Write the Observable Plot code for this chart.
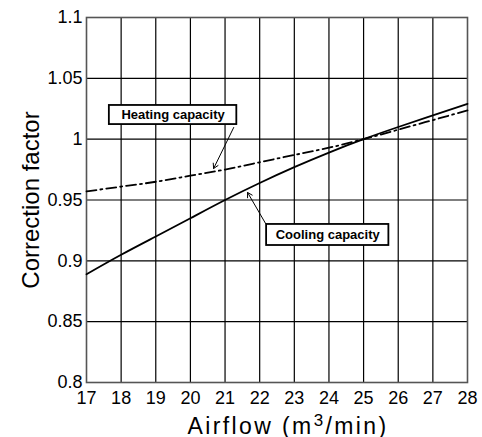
<!DOCTYPE html>
<html>
<head>
<meta charset="utf-8">
<script src="https://cdn.jsdelivr.net/npm/d3@7"></script>
<script src="https://cdn.jsdelivr.net/npm/@observablehq/plot@0.6"></script>
<style>
  html, body { margin: 0; padding: 0; background: #fff; }
  #chart svg { display: block; }
</style>
</head>
<body>
<div id="chart"></div>
<script>
// ---- data ----
const airflow = [17, 18, 19, 20, 21, 22, 23, 24, 25, 26, 27, 28];
const cooling = [0.889, 0.905, 0.920, 0.935, 0.950, 0.964, 0.977, 0.989, 1.000, 1.010, 1.0195, 1.029];
const heating = [0.957, 0.961, 0.965, 0.970, 0.975, 0.981, 0.987, 0.993, 1.000, 1.0078, 1.0157, 1.0236];
const xTicks = [17, 18, 19, 20, 21, 22, 23, 24, 25, 26, 27, 28];
const yTicks = [0.8, 0.85, 0.9, 0.95, 1, 1.05, 1.1];
const yTickLabels = ["0.8", "0.85", "0.9", "0.95", "1", "1.05", "1.1"];
const xLabel = "Airflow (m3/min)";
const yLabel = "Correction factor";
const seriesNames = ["Heating capacity", "Cooling capacity"];
// annotation boxes and arrows, in data coordinates
const boxX1 = [17.66, 22.20];
const boxX2 = [21.34, 25.73];
const boxY1 = [1.0120, 0.9126];
const boxY2 = [1.0277, 0.9299];
const arrowX1 = [21.25, 22.17];
const arrowY1 = [1.0096, 0.9307];
const arrowX2 = [20.67, 21.65];
const arrowY2 = [0.9759, 0.9562];

const coolingData = airflow.map((x, i) => ({x, y: cooling[i]}));
const heatingData = airflow.map((x, i) => ({x, y: heating[i]}));
const notes = seriesNames.map((name, i) => ({
  name, x1: boxX1[i], x2: boxX2[i], y1: boxY1[i], y2: boxY2[i],
  ax1: arrowX1[i], ay1: arrowY1[i], ax2: arrowX2[i], ay2: arrowY2[i]
}));

const font = "'Liberation Sans', Arial, Helvetica, sans-serif";

const plot = Plot.plot({
  width: 482,
  height: 437,
  marginLeft: 86,
  marginRight: 15,
  marginTop: 17,
  marginBottom: 55,
  style: {fontFamily: font, fontSize: "18px", color: "#000", background: "#fff"},
  x: {domain: [17, 28]},
  y: {domain: [0.8, 1.1]},
  marks: [
    Plot.gridX(xTicks.slice(1, -1), {stroke: "#000", strokeOpacity: 1, strokeWidth: 1.2}),
    Plot.gridY(yTicks.slice(1, -1), {stroke: "#000", strokeOpacity: 1, strokeWidth: 1.2}),
    Plot.frame({stroke: "#555", strokeWidth: 1.6}),
    Plot.axisX({ticks: xTicks, tickSize: 0, tickPadding: 9, tickFormat: d => String(d), label: null, fontSize: 18}),
    Plot.axisY({ticks: yTicks, tickSize: 0, tickPadding: 4, tickFormat: d => yTickLabels[yTicks.indexOf(d)], label: null, fontSize: 18}),
    Plot.line(heatingData, {x: "x", y: "y", curve: "natural", stroke: "#000", strokeWidth: 1.8, strokeDasharray: "10,4,2,4"}),
    Plot.line(coolingData, {x: "x", y: "y", curve: "natural", stroke: "#000", strokeWidth: 1.8}),
    Plot.arrow(notes, {x1: "ax1", y1: "ay1", x2: "ax2", y2: "ay2", stroke: "#000", strokeWidth: 1, headLength: 8, bend: 0}),
    Plot.rect(notes, {x1: "x1", x2: "x2", y1: "y1", y2: "y2", fill: "#fff", stroke: "#000", strokeWidth: 1.8}),
    Plot.text(notes, {x: d => (d.x1 + d.x2) / 2, y: d => (d.y1 + d.y2) / 2, text: "name", fontWeight: "bold", fontSize: 13, fill: "#000"}),
    Plot.text([yLabel], {frameAnchor: "left", text: d => d, rotate: -90, textAnchor: "middle", lineAnchor: "middle", dx: -55, fontSize: 24, fill: "#000"}),
    Plot.text([xLabel], {frameAnchor: "bottom", text: d => d, textAnchor: "middle", lineAnchor: "bottom", dx: 11, dy: 51, fontSize: 23, fill: "#000"})
  ]
});

// superscript the "3" in the x label
plot.querySelectorAll("text").forEach(t => {
  if (t.textContent === xLabel) {
    t.style.letterSpacing = "2.4px";
    const ns = "http://www.w3.org/2000/svg";
    t.textContent = "";
    const a = document.createElementNS(ns, "tspan"); a.textContent = "Airflow (m";
    const b = document.createElementNS(ns, "tspan"); b.textContent = "3";
    b.setAttribute("dy", "-8"); b.setAttribute("font-size", "17");
    const c = document.createElementNS(ns, "tspan"); c.textContent = "/min)";
    c.setAttribute("dy", "8");
    t.append(a, b, c);
  }
});

document.getElementById("chart").appendChild(plot);
</script>
</body>
</html>
